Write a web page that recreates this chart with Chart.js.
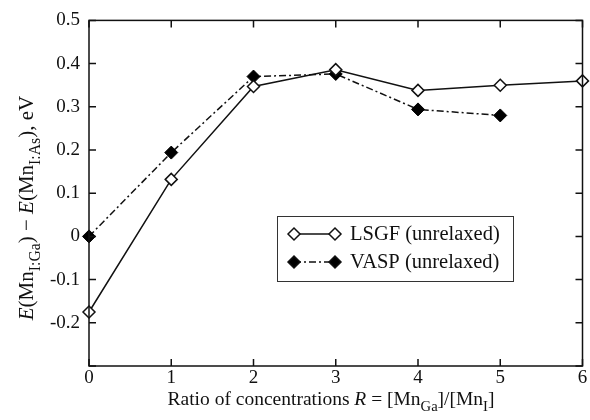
<!DOCTYPE html>
<html>
<head>
<meta charset="utf-8">
<script src="https://cdn.jsdelivr.net/npm/chart.js@4/dist/chart.umd.min.js"></script>
<style>
  html, body { margin: 0; padding: 0; background: #fff; }
  #wrap { width: 590px; height: 420px; }
</style>
</head>
<body>
<div id="wrap"><canvas id="c" width="590" height="420"></canvas></div>
<script>
// Datos
const ratios   = [0, 1, 2, 3, 4, 5, 6];
const lsgf     = [-0.175, 0.132, 0.347, 0.386, 0.338, 0.350, 0.360];
const vasp     = [0.000, 0.194, 0.370, 0.376, 0.294, 0.280];
const xTicks   = [0, 1, 2, 3, 4, 5, 6];
const yTicks   = [-0.3, -0.2, -0.1, 0, 0.1, 0.2, 0.3, 0.4, 0.5];
const seriesNames = ['LSGF (unrelaxed)', 'VASP (unrelaxed)'];

const SERIF = "'Liberation Serif', 'DejaVu Serif', serif";
const INK = '#111';
const VASP_DASH = [7, 3, 2, 3];

const toPoints = (ys) => ys.map((y, i) => ({ x: ratios[i], y }));

// Marco completo con marcas hacia dentro en los cuatro lados
const frameTicks = {
  id: 'frameTicks',
  afterDatasetsDraw(chart) {
    const { ctx, chartArea: a, scales: { x, y } } = chart;
    const len = 7;
    ctx.save();
    ctx.strokeStyle = INK;
    ctx.lineWidth = 1.5;
    ctx.strokeRect(a.left, a.top, a.right - a.left, a.bottom - a.top);
    ctx.beginPath();
    xTicks.forEach(v => {
      const px = x.getPixelForValue(v);
      ctx.moveTo(px, a.bottom); ctx.lineTo(px, a.bottom - len);
      ctx.moveTo(px, a.top);    ctx.lineTo(px, a.top + len);
    });
    yTicks.forEach(v => {
      const py = y.getPixelForValue(v);
      ctx.moveTo(a.left, py);  ctx.lineTo(a.left + len, py);
      ctx.moveTo(a.right, py); ctx.lineTo(a.right - len, py);
    });
    ctx.stroke();
    ctx.restore();
  }
};

// Dibuja un texto con partes en cursiva y subíndices
function drawRich(ctx, parts, size, align) {
  const font = (p) => `${p.italic ? 'italic ' : ''}${p.sub ? size * 0.75 : size}px ${SERIF}`;
  let total = 0;
  parts.forEach(p => { ctx.font = font(p); total += ctx.measureText(p.t).width; });
  let cx = align === 'center' ? -total / 2 : 0;
  parts.forEach(p => {
    ctx.font = font(p);
    ctx.fillText(p.t, cx, p.sub ? size * 0.32 : 0);
    cx += ctx.measureText(p.t).width;
  });
}

const titles = {
  id: 'titles',
  afterDraw(chart) {
    const { ctx, chartArea: a } = chart;
    ctx.save();
    ctx.fillStyle = INK;
    ctx.textBaseline = 'alphabetic';
    ctx.textAlign = 'left';

    // Título del eje X
    ctx.save();
    ctx.translate(331, 405);
    drawRich(ctx, [
      { t: 'Ratio of concentrations ' },
      { t: 'R', italic: true },
      { t: ' = [Mn' }, { t: 'Ga', sub: true },
      { t: ']/[Mn' }, { t: 'I', sub: true }, { t: ']' }
    ], 19.5, 'center');
    ctx.restore();

    // Título del eje Y (rotado)
    ctx.save();
    ctx.translate(33, 208);
    ctx.rotate(-Math.PI / 2);
    drawRich(ctx, [
      { t: 'E', italic: true }, { t: '(Mn' }, { t: 'I:Ga', sub: true },
      { t: ') \u2212 ' },
      { t: 'E', italic: true }, { t: '(Mn' }, { t: 'I:As', sub: true },
      { t: '), eV' }
    ], 21, 'center');
    ctx.restore();

    // Leyenda con caja
    const bx = 277, by = 216, bw = 236, bh = 65;
    ctx.fillStyle = '#fff';
    ctx.fillRect(bx, by, bw, bh);
    ctx.strokeStyle = '#333';
    ctx.lineWidth = 1;
    ctx.strokeRect(bx + 0.5, by + 0.5, bw, bh);

    const rows = [
      { y: 234, ds: chart.data.datasets[0] },
      { y: 262, ds: chart.data.datasets[1] }
    ];
    rows.forEach((r, i) => {
      const x0 = 294, x1 = 335;
      ctx.strokeStyle = INK;
      ctx.lineWidth = 1.5;
      ctx.setLineDash(r.ds.borderDash || []);
      ctx.beginPath();
      ctx.moveTo(x0, r.y); ctx.lineTo(x1, r.y);
      ctx.stroke();
      ctx.setLineDash([]);
      [x0, x1].forEach(px => {
        ctx.fillStyle = r.ds.pointBackgroundColor;
        ctx.strokeStyle = INK;
        ctx.lineWidth = 1.5;
        ctx.beginPath();
        ctx.moveTo(px - 6, r.y); ctx.lineTo(px, r.y - 6);
        ctx.lineTo(px + 6, r.y); ctx.lineTo(px, r.y + 6);
        ctx.closePath();
        ctx.fill(); ctx.stroke();
      });
      ctx.fillStyle = INK;
      ctx.font = `20.5px ${SERIF}`;
      ctx.textBaseline = 'middle';
      ctx.fillText(seriesNames[i], 350, r.y + 1);
    });
    ctx.restore();
  }
};

new Chart(document.getElementById('c'), {
  type: 'line',
  data: {
    datasets: [
      {
        label: seriesNames[0],
        data: toPoints(lsgf),
        borderColor: INK,
        borderWidth: 1.5,
        pointStyle: 'rectRot',
        pointRadius: 6,
        pointBorderWidth: 1.5,
        pointBackgroundColor: '#fff',
        pointBorderColor: INK,
        tension: 0,
        clip: false,
      },
      {
        label: seriesNames[1],
        data: toPoints(vasp),
        borderColor: INK,
        borderWidth: 1.5,
        borderDash: VASP_DASH,
        pointStyle: 'rectRot',
        pointRadius: 6.5,
        pointBorderWidth: 1,
        pointBackgroundColor: '#000',
        pointBorderColor: '#000',
        tension: 0,
        clip: false,
      },
    ],
  },
  options: {
    responsive: false,
    animation: false,
    layout: { padding: { left: 0, right: 7, top: 17, bottom: 0 } },
    plugins: {
      legend: { display: false },
      tooltip: { enabled: false },
    },
    scales: {
      x: {
        type: 'linear',
        min: 0, max: 6,
        afterBuildTicks: (s) => { s.ticks = xTicks.map(v => ({ value: v })); },
        afterFit: (s) => { s.height = 54; },
        grid: { display: false, drawTicks: false },
        border: { display: false },
        ticks: {
          color: INK,
          padding: 1,
          font: { family: SERIF, size: 19 },
          callback: (v) => String(v),
        },
      },
      y: {
        min: -0.3, max: 0.5,
        afterBuildTicks: (s) => { s.ticks = yTicks.map(v => ({ value: v })); },
        afterFit: (s) => { s.width = 89; },
        grid: { display: false, drawTicks: false },
        border: { display: false },
        ticks: {
          color: INK,
          padding: 9,
          font: { family: SERIF, size: 19 },
          callback: (v) => {
            if (Math.abs(v + 0.3) < 1e-9) return '';
            if (Math.abs(v) < 1e-9) return '0';
            return v.toFixed(1);
          },
        },
      },
    },
  },
  plugins: [frameTicks, titles],
});
</script>
</body>
</html>
